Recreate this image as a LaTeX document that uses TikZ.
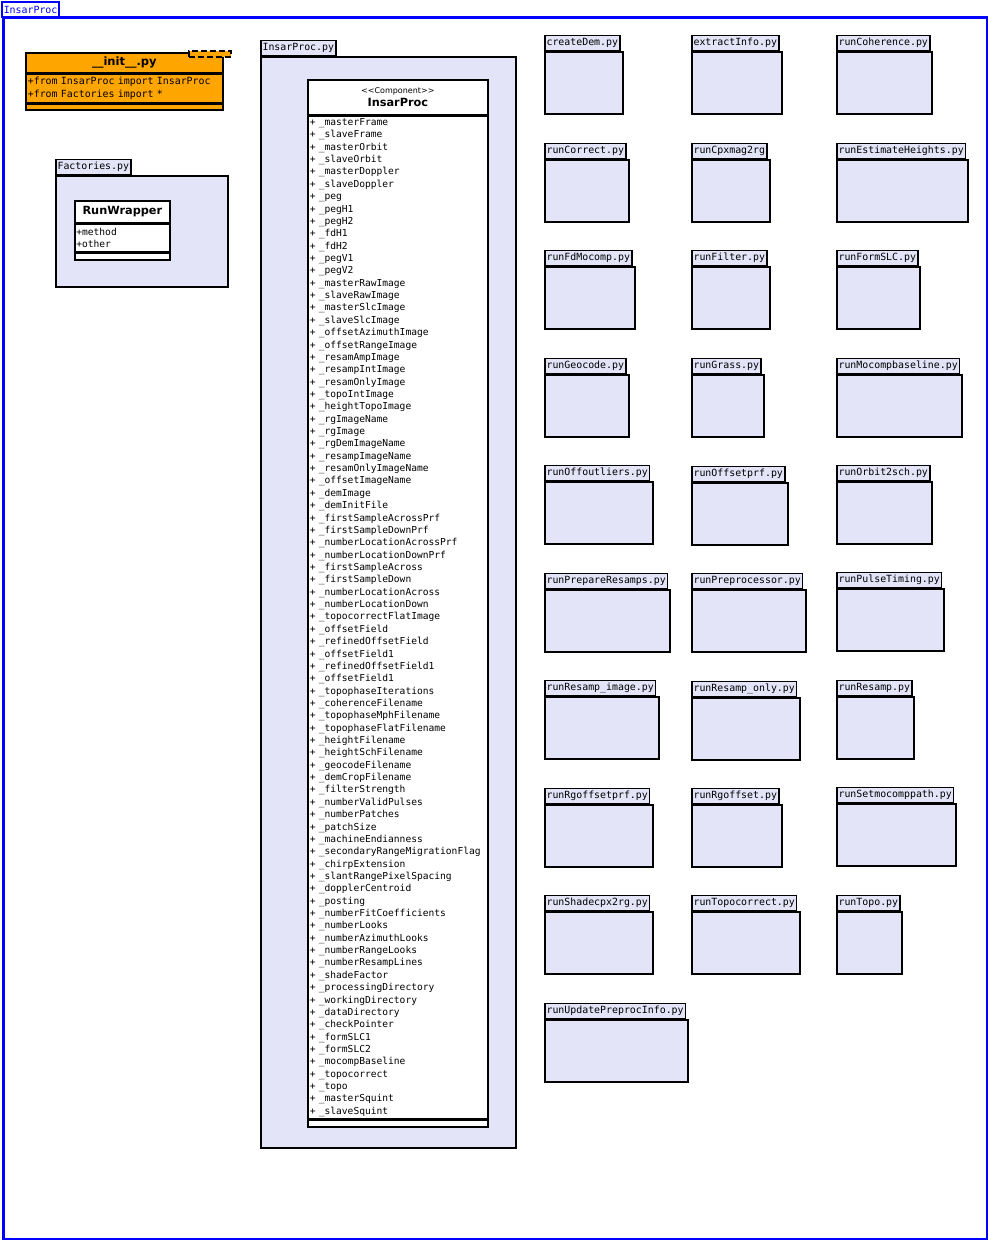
\documentclass[tikz,border=0pt]{standalone}
\usepackage{fontspec}
\setmainfont{DejaVu Sans}
\setsansfont{DejaVu Sans}
\setmonofont{DejaVu Sans Mono}
\definecolor{lav}{RGB}{227,228,248}
\definecolor{orng}{RGB}{255,165,0}
\definecolor{frblue}{RGB}{0,0,255}
\tikzset{
  pkgbody/.style={draw, line width=1.7pt, fill=lav, minimum height=62pt, inner sep=0pt, anchor=north west},
  pkgtab/.style={draw, line width=1.5pt, fill=lav, minimum height=15pt, inner xsep=1.8pt, inner ysep=0pt, anchor=south west,
     font=\ttfamily\fontsize{9.9}{11}\selectfont},
  classpart/.style={draw, line width=1.7pt, fill=white, inner sep=0pt, anchor=north west},
  initpart/.style={draw, line width=1.7pt, fill=orng, inner sep=0pt, anchor=north west},
}
\newcommand\pkgbox[5]{%
  \node[pkgbody, minimum width=#4pt] (#1) at (#2,#3+15) {};
  \node[pkgtab] (#1-tab) at (#1.north west) {#5};
}
\begin{document}
\begin{tikzpicture}[x=1pt,y=-1pt]
\useasboundingbox (0,0) rectangle (988,1240);
% outer blue frame
\node[draw=frblue, line width=2.5pt, minimum width=984pt, minimum height=1222pt, inner sep=0pt, anchor=north west] (frame) at (2,16) {};
\node[draw=frblue, line width=2.2pt, fill=white, text=frblue, minimum width=57pt, minimum height=15pt, inner sep=0pt, anchor=north west,
  font=\ttfamily\fontsize{9.9}{11}\selectfont] (frameTab) at (1,1) {InsarProc};

% __init__.py
\node[initpart, minimum width=197pt, minimum height=20pt, font=\sffamily\bfseries\fontsize{11.5}{13}\selectfont] (initHead) at (25,52) {\_\_init\_\_.py};
\node[initpart, minimum width=197pt, minimum height=28pt, text width=193pt, align=left, inner xsep=2pt,
  font=\ttfamily\fontsize{9.9}{13}\selectfont] (initAttr) at (initHead.south west) {+from InsarProc import InsarProc\\+from Factories import *};
\node[initpart, minimum width=197pt, minimum height=6pt] (initOps) at (initAttr.south west) {};
\node[draw, dashed, dash pattern=on 6pt off 3pt, line width=1.7pt, fill=orng, minimum width=42pt, minimum height=6pt, inner sep=0pt, anchor=north west] (initTpl) at (188,50) {};

% Factories.py
\node[pkgbody, minimum width=172pt, minimum height=111pt] (fact) at (55,175) {};
\node[pkgtab] (fact-tab) at (fact.north west) {Factories.py};
\node[classpart, minimum width=95pt, minimum height=22pt, font=\sffamily\bfseries\fontsize{11.3}{13}\selectfont] (rwHead) at (74,200) {RunWrapper};
\node[classpart, minimum width=95pt, minimum height=27pt, text width=92pt, align=left, inner xsep=1.5pt,
  font=\ttfamily\fontsize{9.6}{12}\selectfont] (rwAttr) at (rwHead.south west) {+method\\+other};
\node[classpart, minimum width=95pt, minimum height=7pt] (rwOps) at (rwAttr.south west) {};

% InsarProc.py
\node[pkgbody, minimum width=255pt, minimum height=1091pt] (ipPkg) at (260,56) {};
\node[pkgtab] (ipPkg-tab) at (ipPkg.north west) {InsarProc.py};
\node[classpart, minimum width=180pt, minimum height=35pt, align=center, font=\sffamily] (ipHead) at (307,79)
  {{\fontsize{8}{15}\selectfont {<}{<}Component{>}{>}}\\[1pt]{\bfseries\fontsize{11.3}{13}\selectfont InsarProc}};
\node[classpart, minimum width=180pt, minimum height=1002pt, text width=176pt, align=left, inner xsep=2pt,
  font=\ttfamily\fontsize{9.6}{12.36}\selectfont] (ipAttr) at (ipHead.south west) {%
+ \_masterFrame\\+ \_slaveFrame\\+ \_masterOrbit\\+ \_slaveOrbit\\+ \_masterDoppler\\+ \_slaveDoppler\\%
+ \_peg\\+ \_pegH1\\+ \_pegH2\\+ \_fdH1\\+ \_fdH2\\+ \_pegV1\\+ \_pegV2\\%
+ \_masterRawImage\\+ \_slaveRawImage\\+ \_masterSlcImage\\+ \_slaveSlcImage\\%
+ \_offsetAzimuthImage\\+ \_offsetRangeImage\\+ \_resamAmpImage\\+ \_resampIntImage\\%
+ \_resamOnlyImage\\+ \_topoIntImage\\+ \_heightTopoImage\\+ \_rgImageName\\+ \_rgImage\\%
+ \_rgDemImageName\\+ \_resampImageName\\+ \_resamOnlyImageName\\+ \_offsetImageName\\%
+ \_demImage\\+ \_demInitFile\\+ \_firstSampleAcrossPrf\\+ \_firstSampleDownPrf\\%
+ \_numberLocationAcrossPrf\\+ \_numberLocationDownPrf\\+ \_firstSampleAcross\\+ \_firstSampleDown\\%
+ \_numberLocationAcross\\+ \_numberLocationDown\\+ \_topocorrectFlatImage\\+ \_offsetField\\%
+ \_refinedOffsetField\\+ \_offsetField1\\+ \_refinedOffsetField1\\+ \_offsetField1\\%
+ \_topophaseIterations\\+ \_coherenceFilename\\+ \_topophaseMphFilename\\+ \_topophaseFlatFilename\\%
+ \_heightFilename\\+ \_heightSchFilename\\+ \_geocodeFilename\\+ \_demCropFilename\\%
+ \_filterStrength\\+ \_numberValidPulses\\+ \_numberPatches\\+ \_patchSize\\%
+ \_machineEndianness\\+ \_secondaryRangeMigrationFlag\\+ \_chirpExtension\\+ \_slantRangePixelSpacing\\%
+ \_dopplerCentroid\\+ \_posting\\+ \_numberFitCoefficients\\+ \_numberLooks\\%
+ \_numberAzimuthLooks\\+ \_numberRangeLooks\\+ \_numberResampLines\\+ \_shadeFactor\\%
+ \_processingDirectory\\+ \_workingDirectory\\+ \_dataDirectory\\+ \_checkPointer\\%
+ \_formSLC1\\+ \_formSLC2\\+ \_mocompBaseline\\+ \_topocorrect\\+ \_topo\\%
+ \_masterSquint\\+ \_slaveSquint};
\node[classpart, minimum width=180pt, minimum height=7pt] (ipOps) at (ipAttr.south west) {};

% module packages
\pkgbox{createDem}{544}{36}{78}{createDem.py}
\pkgbox{extractInfo}{691}{36}{90}{extractInfo.py}
\pkgbox{runCoherence}{836}{36}{95}{runCoherence.py}
\pkgbox{runCorrect}{544}{144}{84}{runCorrect.py}
\pkgbox{runCpxmag}{691}{144}{78}{runCpxmag2rg}
\pkgbox{runEstimateHeights}{836}{144}{131}{runEstimateHeights.py}
\pkgbox{runFdMocomp}{544}{251}{90}{runFdMocomp.py}
\pkgbox{runFilter}{691}{251}{78}{runFilter.py}
\pkgbox{runFormSLC}{836}{251}{83}{runFormSLC.py}
\pkgbox{runGeocode}{544}{359}{84}{runGeocode.py}
\pkgbox{runGrass}{691}{359}{72}{runGrass.py}
\pkgbox{runMocompbaseline}{836}{359}{125}{runMocompbaseline.py}
\pkgbox{runOffoutliers}{544}{466}{108}{runOffoutliers.py}
\pkgbox{runOffsetprf}{691}{467}{96}{runOffsetprf.py}
\pkgbox{runOrbitsch}{836}{466}{95}{runOrbit2sch.py}
\pkgbox{runPrepareResamps}{544}{574}{125}{runPrepareResamps.py}
\pkgbox{runPreprocessor}{691}{574}{114}{runPreprocessor.py}
\pkgbox{runPulseTiming}{836}{573}{107}{runPulseTiming.py}
\pkgbox{runResampImage}{544}{681}{114}{runResamp\_image.py}
\pkgbox{runResampOnly}{691}{682}{108}{runResamp\_only.py}
\pkgbox{runResamp}{836}{681}{77}{runResamp.py}
\pkgbox{runRgoffsetprf}{544}{789}{108}{runRgoffsetprf.py}
\pkgbox{runRgoffset}{691}{789}{90}{runRgoffset.py}
\pkgbox{runSetmocomppath}{836}{788}{119}{runSetmocomppath.py}
\pkgbox{runShadecpx}{544}{896}{108}{runShadecpx2rg.py}
\pkgbox{runTopocorrect}{691}{896}{108}{runTopocorrect.py}
\pkgbox{runTopo}{836}{896}{65}{runTopo.py}
\pkgbox{runUpdatePreprocInfo}{544}{1004}{143}{runUpdatePreprocInfo.py}
\end{tikzpicture}
\end{document}
